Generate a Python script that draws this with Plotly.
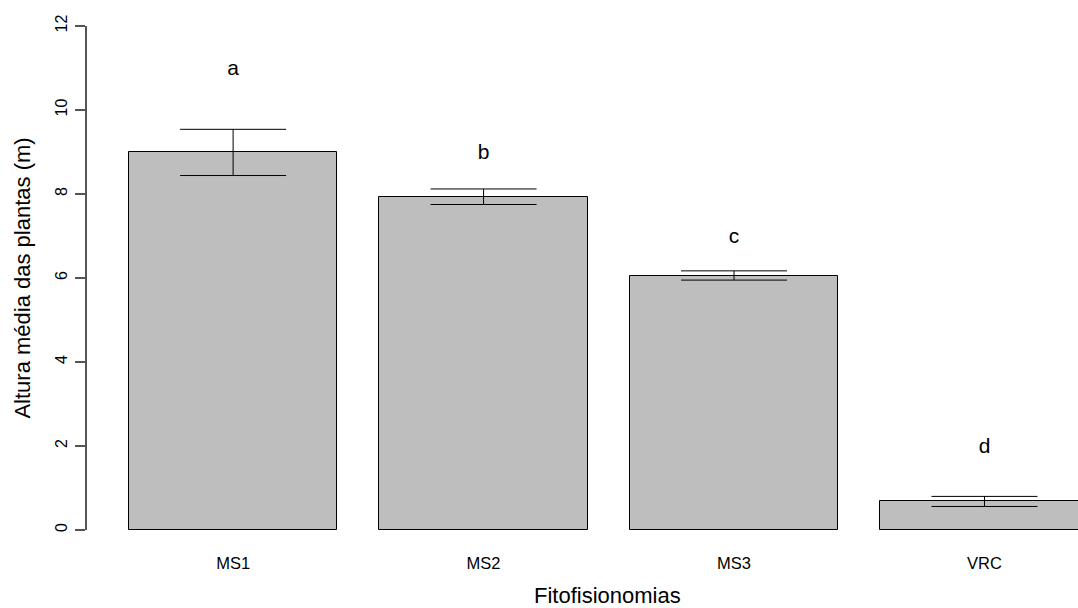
import plotly.graph_objects as go

# Mean plant height per vegetation type, with interval bounds and group letters
categories = ["MS1", "MS2", "MS3", "VRC"]
means = [9.00, 7.92, 6.05, 0.68]
upper = [9.54, 8.12, 6.17, 0.80]
lower = [8.44, 7.75, 5.95, 0.56]
letters = ["a", "b", "c", "d"]
letter_y = [10.95, 8.95, 6.95, 1.95]
y_ticks = [0, 2, 4, 6, 8, 10, 12]

# barplot-style positions: width 1, spacing 0.2
positions = [0.2 + 1.2 * i + 0.5 for i in range(len(categories))]

FONT = "Liberation Sans, Arial, sans-serif"

fig = go.Figure()
fig.add_trace(go.Bar(
    x=positions,
    y=means,
    width=1.0,
    marker=dict(color="#BEBEBE", line=dict(color="#000000", width=1)),
    error_y=dict(
        type="data",
        symmetric=False,
        array=[u - m for u, m in zip(upper, means)],
        arrayminus=[m - l for m, l in zip(means, lower)],
        color="#000000",
        thickness=1,
        width=53,
    ),
    hoverinfo="skip",
    showlegend=False,
))
fig.add_trace(go.Scatter(
    x=positions,
    y=letter_y,
    mode="text",
    text=letters,
    textposition="middle center",
    textfont=dict(family=FONT, size=21, color="#000000"),
    hoverinfo="skip",
    showlegend=False,
    cliponaxis=False,
))

fig.update_layout(
    width=1078,
    height=608,
    margin=dict(l=87, r=0, t=26, b=78),
    paper_bgcolor="white",
    plot_bgcolor="white",
    font=dict(family=FONT, color="#000000"),
    bargap=0,
    annotations=[dict(
        text="Fitofisionomias",
        xref="paper", yref="paper",
        x=0.5252, y=-0.157,
        xanchor="center", yanchor="bottom",
        showarrow=False,
        borderpad=0,
        font=dict(family=FONT, size=22, color="#000000"),
    )],
)
fig.update_xaxes(
    range=[0, 4.748],
    tickvals=positions,
    ticktext=categories,
    ticks="",
    showgrid=False,
    zeroline=False,
    showline=False,
    tickfont=dict(size=16.5, color="#000000"),
    ticklabelstandoff=21,
)
fig.update_yaxes(
    range=[0, 12],
    tickvals=y_ticks,
    ticks="outside",
    ticklen=10,
    tickcolor="#555555",
    tickwidth=1.5,
    showline=True,
    linecolor="#555555",
    linewidth=1.5,
    showgrid=False,
    zeroline=False,
    tickangle=-90,
    tickfont=dict(size=16, color="#000000"),
    ticklabelstandoff=2,
    title=dict(text="Altura média das plantas (m)", font=dict(size=22), standoff=16),
)

fig.write_html("out.html")
